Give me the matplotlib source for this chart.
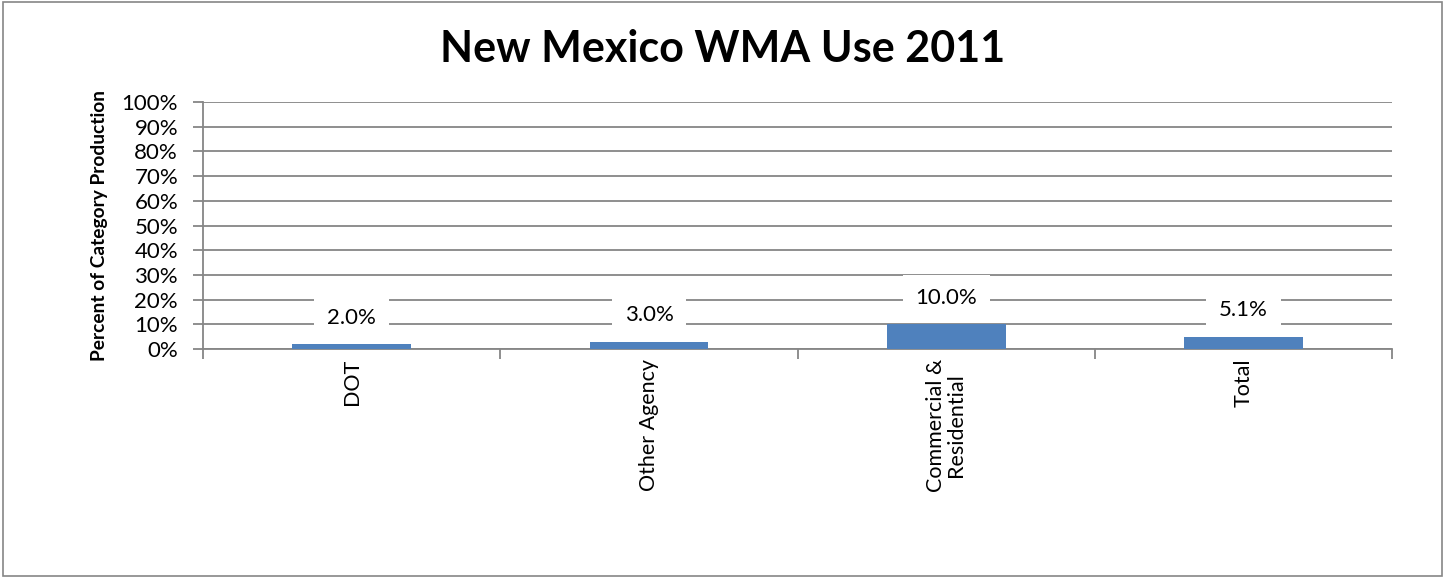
import matplotlib.pyplot as plt
from matplotlib.patches import Rectangle
from matplotlib.ticker import FuncFormatter, FixedLocator

plt.rcParams['font.family'] = ['Lato', 'DejaVu Sans']

categories = ["DOT", "Other Agency", "Commercial &\nResidential", "Total"]
values = [2.0, 3.0, 10.0, 5.1]
labels = ["2.0%", "3.0%", "10.0%", "5.1%"]

grey = "#868686"
bar_color = "#4F81BD"

fig = plt.figure(figsize=(14.45, 5.78), dpi=100)
ax = fig.add_axes([0.1405, 0.396, 0.823, 0.4275])

x = list(range(len(categories)))
ax.bar(x, values, width=0.4, color=bar_color, zorder=3)

ax.set_xlim(-0.5, len(categories) - 0.5)
ax.set_ylim(0, 100)
ax.set_yticks(range(0, 101, 10))
ax.yaxis.set_major_formatter(FuncFormatter(lambda v, p: f"{int(v)}%"))
ax.yaxis.grid(True, color=grey, linewidth=1.3, zorder=0)

ax.set_xticks(x)
ax.set_xticklabels(categories, rotation=90, fontsize=15.5, va="top", ha="center",
                   multialignment="center", linespacing=1.0)
ax.tick_params(axis="x", length=0, pad=7)
ax.xaxis.set_minor_locator(FixedLocator([i - 0.5 for i in range(len(categories) + 1)]))
ax.tick_params(axis="x", which="minor", length=7, color=grey, width=1.3)
ax.tick_params(axis="y", labelsize=16, length=7, color=grey, width=1.3, pad=11)

for side in ["top", "right"]:
    ax.spines[side].set_visible(False)
for side in ["left", "bottom"]:
    ax.spines[side].set_color(grey)
    ax.spines[side].set_linewidth(1.3)

# value labels sit in white boxes that break the gridlines
for xi, v, lab in zip(x, values, labels):
    ax.annotate(lab, (xi, v), xytext=(0, 19), textcoords="offset points",
                ha="center", va="center", fontsize=16, zorder=4,
                bbox=dict(boxstyle="square,pad=0.58", fc="white", ec="none"))

ax.set_ylabel("Percent of Category Production", fontsize=13.8, fontweight="bold",
              labelpad=10)
fig.text(0.5, 0.915, "New Mexico WMA Use 2011", ha="center", va="center",
         fontsize=31, fontweight="bold")

fig.patches.append(Rectangle((0.002, 0.004), 0.996, 0.992, transform=fig.transFigure,
                             fill=False, edgecolor=grey, linewidth=1.2))

fig.savefig("out.png", dpi=100)
